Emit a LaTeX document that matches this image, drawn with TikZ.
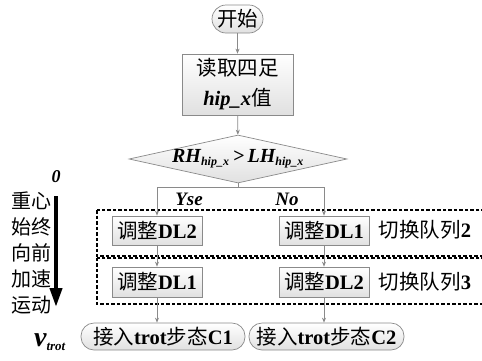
\documentclass[tikz,border=0pt]{standalone}
\usepackage{fontspec}
\setmainfont{Liberation Serif}
\newfontfamily\cjk{Noto Sans CJK SC}
\usetikzlibrary{shapes.geometric,arrows.meta}
\definecolor{edge}{HTML}{8A8A8A}
\tikzset{
  box/.style={draw=edge, line width=0.7pt, top color=white, bottom color=black!12, inner sep=0pt, font=\fontsize{20.5}{30}\selectfont},
  term/.style={box, rounded corners=13pt},
  conn/.style={draw=edge, line width=0.7pt},
  arr/.style={conn, -{Stealth[length=5pt,width=4pt]}},
  dashbox/.style={draw=black, line width=1.6pt, dash pattern=on 3.5pt off 2pt},
  lbl/.style={font=\fontsize{19}{26}\selectfont\bfseries\itshape, inner sep=0pt},
}
\begin{document}
\begin{tikzpicture}[x=1pt,y=-1pt]
\useasboundingbox (0,0) rectangle (482,360);
% dashed groups
\draw[dashbox] (97,210) rectangle (495,256.2);
\draw[dashbox] (97,257.8) rectangle (495,304);
% nodes
\node[term, minimum width=51pt, minimum height=28pt, rounded corners=14pt] (s) at (237.5,19) {\cjk 开始};
\node[box, minimum width=111pt, minimum height=61pt, align=center] (r) at (237.5,84.5) {{\cjk 读取四足}\\{\bfseries\itshape hip\_x}{\cjk 值}};
\node[draw=edge, line width=0.7pt, top color=white, bottom color=black!12, diamond, aspect=4.54, minimum width=218pt, minimum height=48pt, inner sep=0pt] (d) at (238,159)
  {\fontsize{20}{24}\selectfont\bfseries\itshape RH\textsubscript{\fontsize{12}{12}\selectfont hip\_x}\,>\,LH\textsubscript{\fontsize{12}{12}\selectfont hip\_x}};
\node[box, minimum width=90pt, minimum height=29pt] (a1) at (157,230.5) {{\cjk 调整}\textbf{DL2}};
\node[box, minimum width=90pt, minimum height=29pt] (a2) at (324,230.5) {{\cjk 调整}\textbf{DL1}};
\node[box, minimum width=90pt, minimum height=30pt] (b1) at (157,282) {{\cjk 调整}\textbf{DL1}};
\node[box, minimum width=90pt, minimum height=30pt] (b2) at (324,282) {{\cjk 调整}\textbf{DL2}};
\node[term, minimum width=164pt, minimum height=27pt] (c1) at (163,336.5) {{\cjk 接入}\textbf{trot}{\cjk 步态}\textbf{C1}};
\node[term, minimum width=155pt, minimum height=27pt] (c2) at (326.5,336.5) {{\cjk 接入}\textbf{trot}{\cjk 步态}\textbf{C2}};
\node[font=\fontsize{20.5}{24}\selectfont, inner sep=0pt] (q2) at (425,230) {{\cjk 切换队列}\textbf{2}};
\node[font=\fontsize{20.5}{24}\selectfont, inner sep=0pt] (q3) at (425,282) {{\cjk 切换队列}\textbf{3}};
\node[lbl] (yes) at (189,199) {Yse};
\node[lbl] (no) at (287,199) {No};
% connectors
\coordinate (jl) at (157,187);
\coordinate (jr) at (324,187);
\draw[arr] (s) -- (r);
\draw[arr] (r) -- (d);
\draw[conn] (d.south) -- (d.south |- jl);
\draw[conn] (jl) -- (jr);
\draw[arr] (jl) -- (a1.north);
\draw[arr] (jr) -- (a2.north);
\draw[arr] (a1) -- (b1);
\draw[arr] (a2) -- (b2);
\draw[arr] (b1.south) -- (b1.south |- c1.north);
\draw[arr] (b2.south) -- (b2.south |- c2.north);
% left annotation
\node[lbl, font=\fontsize{18}{20}\selectfont\bfseries\itshape] (zero) at (56,177) {0};
\node[font=\fontsize{20}{26}\selectfont\cjk, align=center, inner sep=0pt] (txt) at (31,252.5) {重心\\始终\\向前\\加速\\运动};
\coordinate (ta) at (56,196);
\coordinate (tb) at (56,307);
\draw[line width=4pt, -{Triangle[length=19pt,width=12pt]}] (ta) -- (tb);
\node[inner sep=0pt] (v) at (50,342) {\fontsize{28}{28}\selectfont\bfseries\itshape v\textsubscript{\fontsize{13}{13}\selectfont trot}};
\end{tikzpicture}
\end{document}
